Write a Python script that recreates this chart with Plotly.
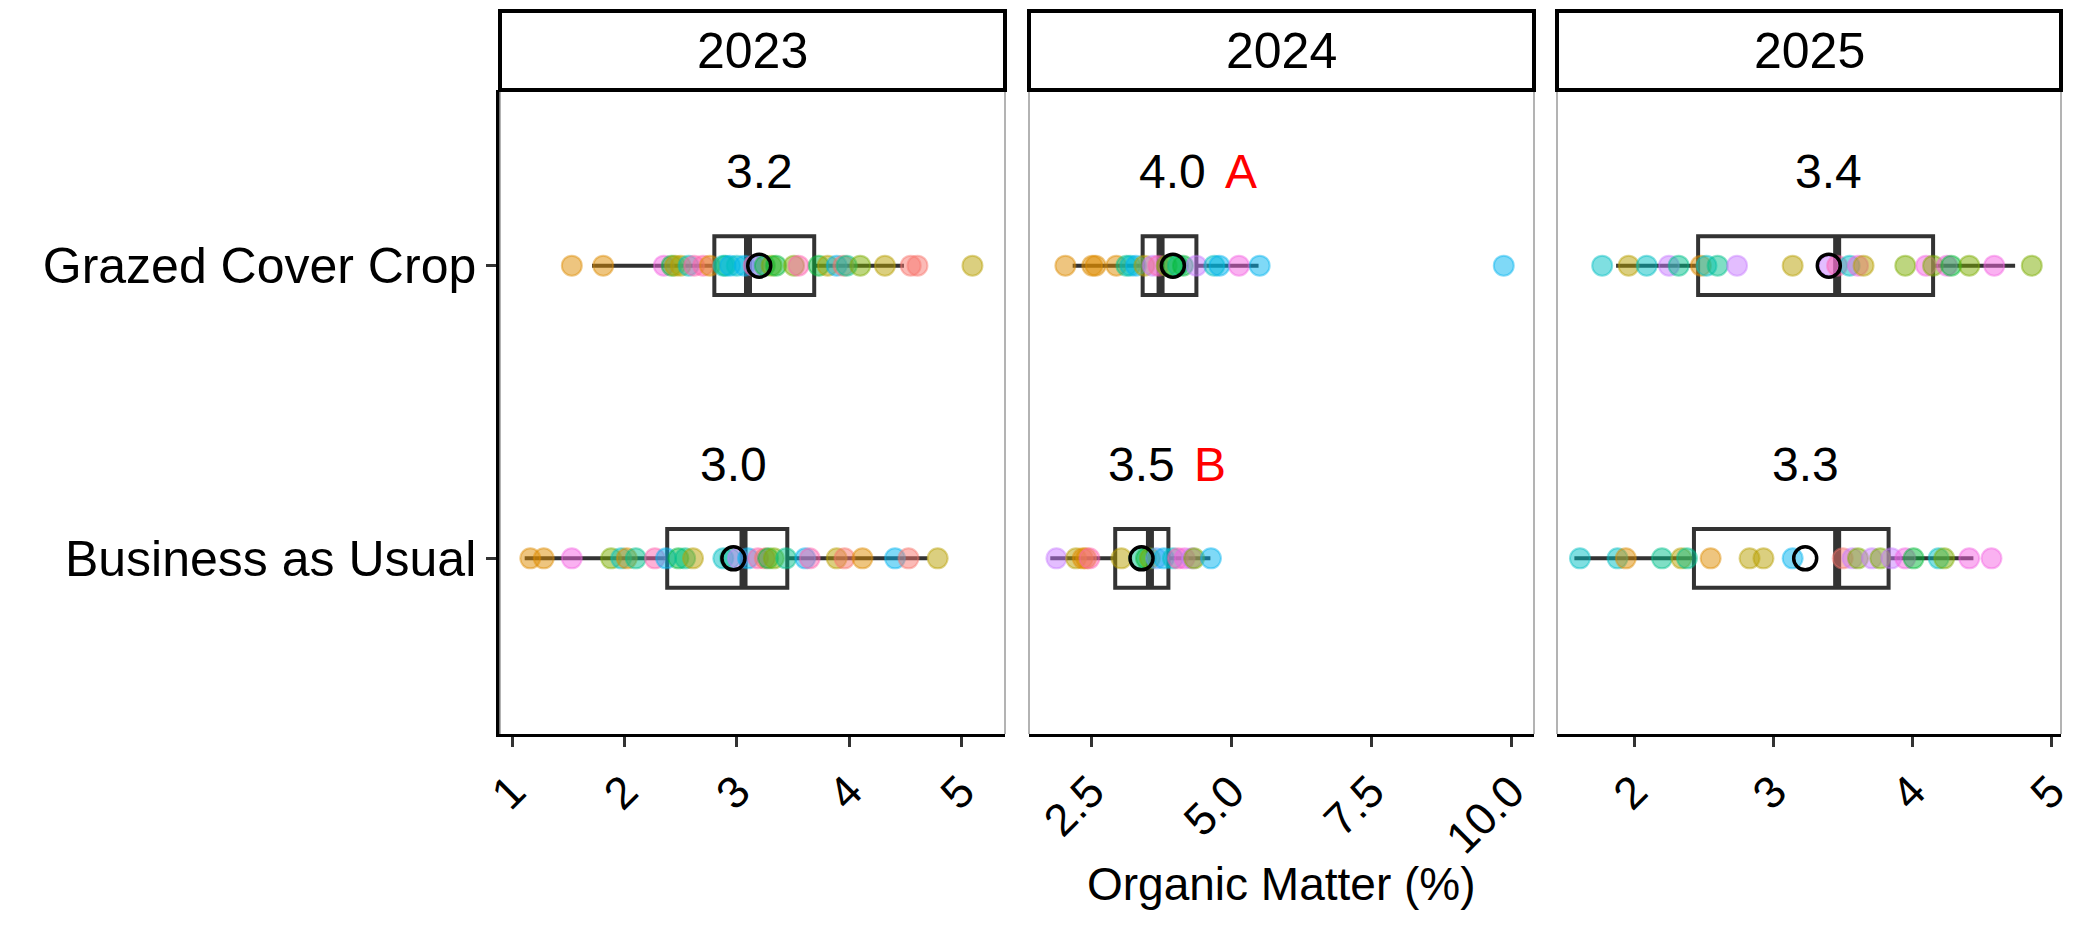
import plotly.graph_objects as go
from plotly.subplots import make_subplots

years = ["2023", "2024", "2025"]
treatments = ["Business as Usual", "Grazed Cover Crop"]

# ggplot hue palette, one colour per site
site_colors = ["#F8766D", "#DE8C00", "#B79F00", "#7CAE00", "#00BA38", "#00C08B",
               "#00BFC4", "#00B4F0", "#619CFF", "#C77CFF", "#F564E3", "#FF64B0"]

# Organic matter (%) per sample, with site id
gcc_2023 = [1.53, 1.81, 2.35, 2.42, 2.45, 2.50, 2.57, 2.62, 2.70, 2.76, 2.88, 2.90, 2.94, 3.00,
            3.07, 3.15, 3.19, 3.25, 3.31, 3.35, 3.51, 3.55, 3.73, 3.81, 3.89, 3.95, 3.98, 4.10,
            4.32, 4.55, 4.61, 5.10]
gcc_2023_site = [1, 1, 10, 4, 2, 2, 6, 11, 11, 1, 6, 5, 7, 6, 7, 11, 8, 4, 3, 4, 3, 11, 4, 2,
                 7, 0, 5, 3, 2, 0, 0, 2]
bau_2023 = [1.16, 1.28, 1.53, 1.88, 1.97, 2.02, 2.10, 2.27, 2.37, 2.48, 2.54, 2.61, 2.88, 2.94,
            3.01, 3.10, 3.19, 3.25, 3.28, 3.33, 3.44, 3.61, 3.65, 3.89, 3.96, 4.12, 4.41, 4.53,
            4.79]
bau_2023_site = [1, 1, 10, 3, 6, 1, 5, 11, 7, 4, 5, 2, 6, 5, 9, 7, 11, 0, 4, 3, 5, 7, 11, 2,
                 0, 1, 7, 0, 2]
gcc_2024 = [2.04, 2.52, 2.58, 2.95, 3.13, 3.20, 3.30, 3.45, 3.60, 3.70, 3.85, 3.96, 4.05, 4.14,
            4.38, 4.70, 4.79, 5.14, 5.51, 9.87]
gcc_2024_site = [1, 1, 1, 1, 5, 6, 7, 2, 9, 11, 3, 4, 5, 4, 9, 6, 7, 10, 7, 7]
bau_2024 = [1.88, 2.23, 2.35, 2.41, 2.47, 3.04, 3.36, 3.48, 3.55, 3.66, 3.80, 3.96, 4.05, 4.17,
            4.30, 4.34, 4.64]
bau_2024_site = [9, 2, 1, 1, 11, 2, 5, 4, 3, 8, 7, 6, 11, 10, 9, 3, 7]
gcc_2025 = [1.77, 1.96, 2.09, 2.25, 2.32, 2.48, 2.52, 2.60, 2.74, 3.14, 3.40, 3.46, 3.55, 3.61,
            3.65, 3.95, 4.10, 4.15, 4.25, 4.28, 4.41, 4.59, 4.86]
gcc_2025_site = [6, 2, 6, 9, 5, 1, 6, 5, 9, 2, 9, 11, 6, 10, 2, 3, 10, 3, 10, 4, 3, 10, 3]
bau_2025 = [1.61, 1.88, 1.94, 2.20, 2.34, 2.38, 2.55, 2.83, 2.93, 3.14, 3.50, 3.57, 3.61, 3.71,
            3.77, 3.85, 3.95, 4.01, 4.19, 4.23, 4.41, 4.57]
bau_2025_site = [6, 6, 1, 5, 2, 5, 1, 2, 2, 7, 0, 9, 3, 9, 3, 9, 10, 4, 6, 3, 10, 10]

# Box statistics per year
gcc_q1 = [2.80, 3.42, 2.46]
gcc_med = [3.10, 3.74, 3.46]
gcc_q3 = [3.69, 4.38, 4.15]
gcc_lo = [1.71, 2.17, 1.87]
gcc_hi = [4.49, 5.49, 4.74]
bau_q1 = [2.38, 2.93, 2.43]
bau_med = [3.06, 3.55, 3.46]
bau_q3 = [3.45, 3.88, 3.83]
bau_lo = [1.11, 1.77, 1.57]
bau_hi = [4.70, 4.63, 4.44]

# Means, printed labels and significance letters
gcc_mean = [3.20, 3.96, 3.40]
bau_mean = [2.97, 3.40, 3.23]
gcc_label = ["3.2", "4.0", "3.4"]
bau_label = ["3.0", "3.5", "3.3"]
gcc_letter = ["", "A", ""]
bau_letter = ["", "B", ""]

groups = {
    "Grazed Cover Crop": dict(vals=[gcc_2023, gcc_2024, gcc_2025],
                              sites=[gcc_2023_site, gcc_2024_site, gcc_2025_site],
                              q1=gcc_q1, med=gcc_med, q3=gcc_q3, lo=gcc_lo, hi=gcc_hi,
                              mean=gcc_mean, label=gcc_label, letter=gcc_letter),
    "Business as Usual": dict(vals=[bau_2023, bau_2024, bau_2025],
                              sites=[bau_2023_site, bau_2024_site, bau_2025_site],
                              q1=bau_q1, med=bau_med, q3=bau_q3, lo=bau_lo, hi=bau_hi,
                              mean=bau_mean, label=bau_label, letter=bau_letter),
}

FONT = "Liberation Sans, Arial, sans-serif"
BOX_W = 0.2

# the page body has an 8px margin, so size the figure to the remaining window
OFF = 8
W, H = 2100 - OFF, 948 - OFF


def px_x(p):
    return (p - OFF) / W


def px_y(p):
    return 1 - (p - OFF) / H


def rgba(hex_col, a):
    h = hex_col.lstrip("#")
    return f"rgba({int(h[0:2], 16)},{int(h[2:4], 16)},{int(h[4:6], 16)},{a})"


fig = make_subplots(rows=1, cols=3, shared_yaxes=True)

for i, year in enumerate(years):
    col = i + 1
    for trt, g in groups.items():
        pos = treatments.index(trt) + 1
        fig.add_trace(go.Box(
            y=[pos], q1=[g["q1"][i]], median=[g["med"][i]], q3=[g["q3"][i]],
            lowerfence=[g["lo"][i]], upperfence=[g["hi"][i]],
            orientation="h", width=BOX_W, whiskerwidth=0, boxpoints=False,
            fillcolor="rgba(0,0,0,0)", line=dict(color="#333333", width=4),
            hoverinfo="skip", showlegend=False), row=1, col=col)
        # thicker median bar like ggplot
        fig.add_trace(go.Scatter(
            x=[g["med"][i], g["med"][i]], y=[pos - BOX_W / 2, pos + BOX_W / 2],
            mode="lines", line=dict(color="#333333", width=8),
            hoverinfo="skip", showlegend=False), row=1, col=col)
        vals = g["vals"][i]
        sites = g["sites"][i]
        fig.add_trace(go.Scatter(
            x=vals, y=[pos] * len(vals), mode="markers",
            marker=dict(size=20, color=[rgba(site_colors[s], 0.5) for s in sites],
                        line=dict(color=[rgba(site_colors[s], 0.45) for s in sites], width=2)),
            hoverinfo="x", showlegend=False), row=1, col=col)
        fig.add_trace(go.Scatter(
            x=[g["mean"][i]], y=[pos], mode="markers",
            marker=dict(symbol="circle-open", size=23, color="black", line=dict(width=3.5)),
            hoverinfo="skip", showlegend=False), row=1, col=col)
        xref = "x" if col == 1 else f"x{col}"
        fig.add_annotation(x=g["mean"][i], y=pos + 0.32, xref=xref, yref="y",
                           text=g["label"][i], showarrow=False,
                           xanchor="center", yanchor="middle",
                           font=dict(family=FONT, size=48, color="black"))
        if g["letter"][i]:
            fig.add_annotation(x=g["mean"][i], y=pos + 0.32, xref=xref, yref="y",
                               text=g["letter"][i], showarrow=False, xanchor="left",
                               yanchor="middle", xshift=50,
                               font=dict(family=FONT, size=48, color="red"))

# panel geometry (window pixels -> paper fractions)
panel_px = [[500, 1005], [1029, 1534], [1557, 2061]]
domains = [[px_x(a), px_x(b)] for a, b in panel_px]
y_dom = [px_y(734), px_y(90)]
strip_top = px_y(11)
x_ranges = [[0.89, 5.39], [1.39, 10.41], [1.445, 5.07]]
x_dticks = [1, 2.5, 1]

for i in range(3):
    ax = "xaxis" if i == 0 else f"xaxis{i + 1}"
    fig.layout[ax].update(
        domain=domains[i], range=x_ranges[i], dtick=x_dticks[i], tick0=0,
        tickformat=".1f" if i == 1 else "d",
        showline=True, linecolor="black", linewidth=3, showgrid=False, zeroline=False,
        ticks="outside", ticklen=10, tickwidth=2.5, tickcolor="#333333",
        tickangle=-45, tickfont=dict(family=FONT, size=45, color="black"), automargin=False)
    yax = "yaxis" if i == 0 else f"yaxis{i + 1}"
    fig.layout[yax].update(domain=y_dom, range=[0.4, 2.6], showgrid=False, zeroline=False,
                           automargin=False)
    # thin grey panel sides
    for xv in domains[i]:
        fig.add_shape(type="line", xref="paper", yref="paper", x0=xv, x1=xv,
                      y0=y_dom[0], y1=y_dom[1], line=dict(color="#9A9A9A", width=1.5))
    # facet strip
    fig.add_shape(type="rect", xref="paper", yref="paper", x0=domains[i][0], x1=domains[i][1],
                  y0=y_dom[1], y1=strip_top, line=dict(color="black", width=4),
                  fillcolor="white")
    fig.add_annotation(x=sum(domains[i]) / 2, y=(y_dom[1] + strip_top) / 2, xref="paper",
                       yref="paper", text=years[i], showarrow=False,
                       xanchor="center", yanchor="middle",
                       font=dict(family=FONT, size=50, color="black"))

fig.update_yaxes(tickvals=[1, 2], ticktext=treatments, showline=True, linecolor="black",
                 linewidth=3.5, ticks="outside", ticklen=10, tickwidth=2.5,
                 tickcolor="#333333", tickfont=dict(family=FONT, size=50, color="black"),
                 row=1, col=1)
fig.update_yaxes(showticklabels=False, ticks="", showline=False, row=1, col=2)
fig.update_yaxes(showticklabels=False, ticks="", showline=False, row=1, col=3)

fig.add_annotation(x=sum(domains[1]) / 2, y=px_y(884), xref="paper", yref="paper",
                   text="Organic Matter (%)", showarrow=False,
                   xanchor="center", yanchor="middle",
                   font=dict(family=FONT, size=46, color="black"))

fig.update_layout(width=W, height=H, margin=dict(l=0, r=0, t=0, b=0),
                  paper_bgcolor="white", plot_bgcolor="white", showlegend=False,
                  boxmode="overlay")

fig.write_html("out.html")
